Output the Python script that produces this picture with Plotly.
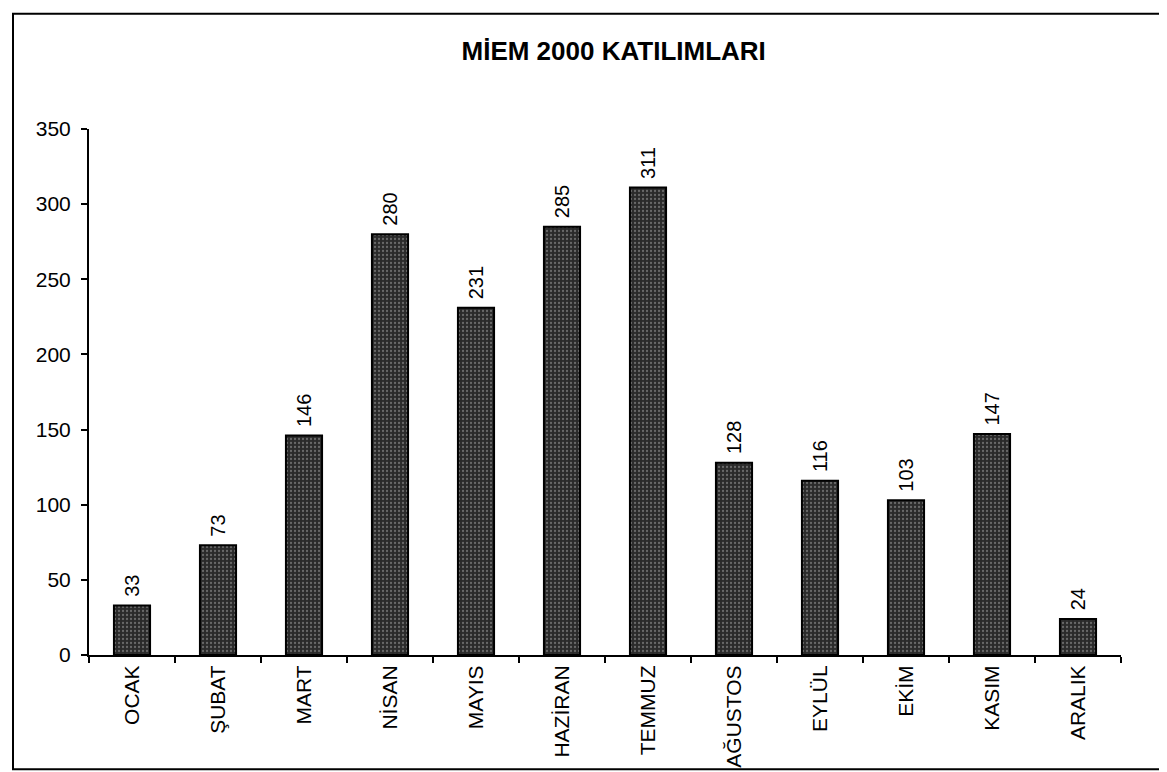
import plotly.graph_objects as go

# MİEM 2000 monthly participation
months = ["OCAK", "ŞUBAT", "MART", "NİSAN", "MAYIS", "HAZİRAN",
          "TEMMUZ", "AĞUSTOS", "EYLÜL", "EKİM", "KASIM", "ARALIK"]
participants = [33, 73, 146, 280, 231, 285, 311, 128, 116, 103, 147, 24]
y_ticks = [0, 50, 100, 150, 200, 250, 300, 350]

FONT = "Liberation Sans, Arial, sans-serif"

bars = go.Bar(
    x=months,
    y=participants,
    marker=dict(
        color="#2a2a2a",
        line=dict(color="black", width=2),
        pattern=dict(shape=".", fgcolor="#a8a8a8", size=4, solidity=0.25),
    ),
    # leading nbsp gives the small gap seen above each bar
    text=["\u00a0" + str(v) for v in participants],
    textposition="outside",
    textangle=-90,
    constraintext="none",
    textfont=dict(family=FONT, size=20, color="black"),
    cliponaxis=False,
)

layout = go.Layout(
    width=1167,
    height=772,
    margin=dict(l=81, r=54, t=121, b=122),
    paper_bgcolor="white",
    plot_bgcolor="white",
    showlegend=False,
    bargap=0.58,
    font=dict(family=FONT, color="black"),
    title=dict(
        text="<b>MİEM 2000 KATILIMLARI</b>",
        font=dict(family=FONT, size=26, color="black"),
        x=0.519, xref="container", xanchor="center",
        y=0.944, yref="container", yanchor="middle",
    ),
    xaxis=dict(
        range=[-0.5, 11.5],
        tickangle=-90,
        tickfont=dict(family=FONT, size=21, color="black"),
        showline=True, linecolor="black", linewidth=2,
        ticks="outside", ticklen=6, tickwidth=2, tickcolor="black",
        tickson="boundaries",
        showgrid=False, zeroline=False,
    ),
    yaxis=dict(
        range=[0, 350],
        tickvals=y_ticks,
        tickfont=dict(family=FONT, size=21, color="black"),
        showline=True, linecolor="black", linewidth=2,
        ticks="outside", ticklen=6, tickwidth=2, tickcolor="black",
        ticklabelstandoff=6,
        showgrid=False, zeroline=False,
    ),
    shapes=[
        # scanned page frame
        dict(type="rect", xref="paper", yref="paper",
             x0=-76 / 1032, x1=(1160 - 81) / 1032,
             y0=-(765 - 650) / 529, y1=(650 - 5) / 529,
             line=dict(color="black", width=2), fillcolor="rgba(0,0,0,0)",
             layer="below"),
    ],
)

fig = go.Figure(data=[bars], layout=layout)
fig.write_html("out.html")
